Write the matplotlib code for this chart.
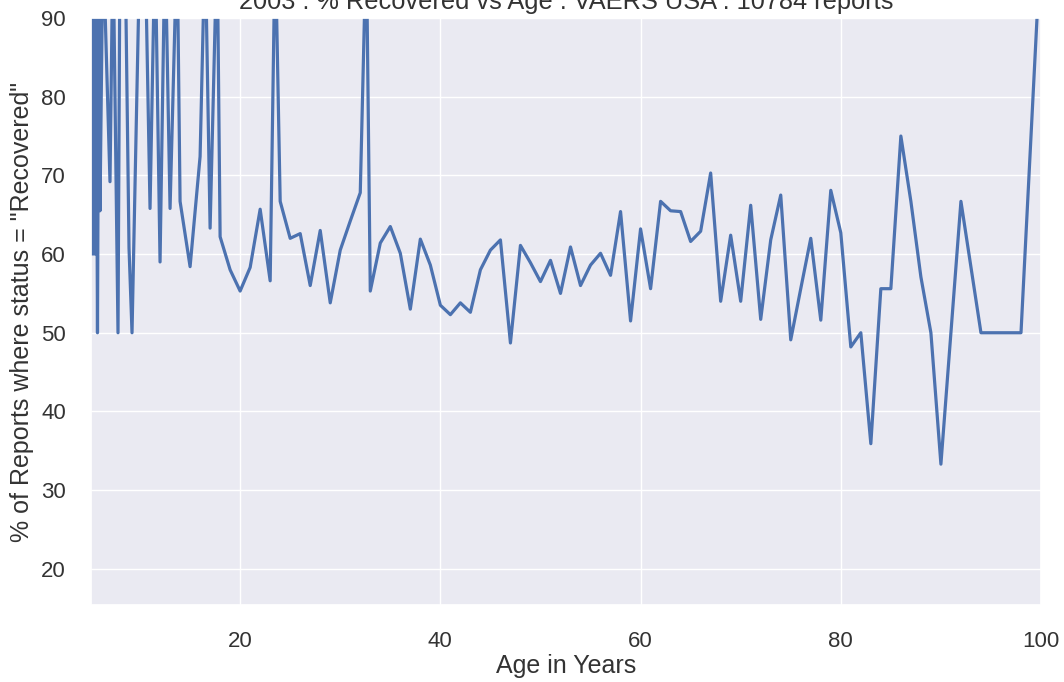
import matplotlib
matplotlib.use("Agg")
import matplotlib.pyplot as plt
import seaborn as sns

# eta (anni) e % di report con status "Recovered"
ages = [5.1, 5.2, 5.3, 5.4, 5.5, 5.6, 5.75, 5.9, 6.0, 6.3,
        7.0, 7.3, 7.8, 8.0, 8.5, 8.9, 9.2, 10.0, 10.5, 11.0,
        11.5, 12.0, 12.5, 13.0, 13.7, 14, 15, 16, 16.5, 17,
        17.7, 18, 19, 20, 21, 22, 23, 23.5, 24, 25,
        26, 27, 28, 29, 30, 31, 32, 32.6, 33, 34,
        35, 36, 37, 38, 39, 40, 41, 42, 43, 44,
        45, 46, 47, 48, 49, 50, 51, 52, 53, 54,
        55, 56, 57, 58, 59, 60, 61, 62, 63, 64,
        65, 66, 67, 68, 69, 70, 71, 72, 73, 74,
        75, 76, 77, 78, 79, 80, 81, 82, 83, 84,
        85, 86, 87, 88, 89, 90, 92, 94, 95, 96,
        97, 98, 100]
recovered = [60, 100, 60, 100, 60, 100, 50, 100, 65.5, 100,
             69.2, 100, 50, 100, 100, 60.8, 50, 100, 100, 65.8,
             100, 59.0, 100, 65.8, 100, 66.7, 58.4, 72.4, 100, 63.3,
             100, 62.2, 58.0, 55.3, 58.3, 65.7, 56.6, 100, 66.7, 62.0,
             62.6, 56.0, 63.0, 53.8, 60.5, 64.2, 67.8, 100, 55.3, 61.4,
             63.5, 60.1, 53.0, 61.9, 58.6, 53.5, 52.3, 53.8, 52.6, 58.0,
             60.5, 61.8, 48.7, 61.1, 58.9, 56.5, 59.2, 55.0, 60.9, 56.0,
             58.6, 60.1, 57.3, 65.4, 51.5, 63.2, 55.6, 66.7, 65.5, 65.4,
             61.6, 62.9, 70.3, 54.0, 62.4, 54.0, 66.2, 51.7, 61.8, 67.5,
             49.1, 55.6, 62.0, 51.6, 68.1, 62.7, 48.2, 50.0, 35.9, 55.6,
             55.6, 75.0, 66.7, 57.1, 50.0, 33.3, 66.7, 50.0, 50.0, 50.0,
             50.0, 50.0, 100]

sns.set_theme(style="darkgrid")
plt.rcParams['font.family'] = ['Liberation Sans', 'DejaVu Sans']

fig = plt.figure(figsize=(10.64, 6.82), dpi=100)
ax = fig.add_axes([0.0855, 0.1129, 0.8929, 0.8607])

ax.plot(ages, recovered, color="#4c72b0", linewidth=2.3)

ax.set_xlim(5.1, 100)
ax.set_ylim(15.4, 90)
ax.set_xticks([20, 40, 60, 80, 100])
ax.set_yticks([20, 30, 40, 50, 60, 70, 80, 90])
ax.tick_params(axis="x", labelsize=16, colors="#333333", pad=13)
ax.tick_params(axis="y", labelsize=16, colors="#333333", pad=12)

# titolo: nell'originale e' tagliato dal bordo superiore
ax.set_title("2003 : % Recovered vs Age : VAERS USA : 10784 reports",
             fontsize=18.3, color="#333333", pad=6.5)
ax.set_xlabel("Age in Years", fontsize=18, color="#333333", labelpad=1.5)
ax.set_ylabel('% of Reports where status = "Recovered"', fontsize=18,
              color="#333333", labelpad=5)

fig.savefig("out.png", dpi=100)
